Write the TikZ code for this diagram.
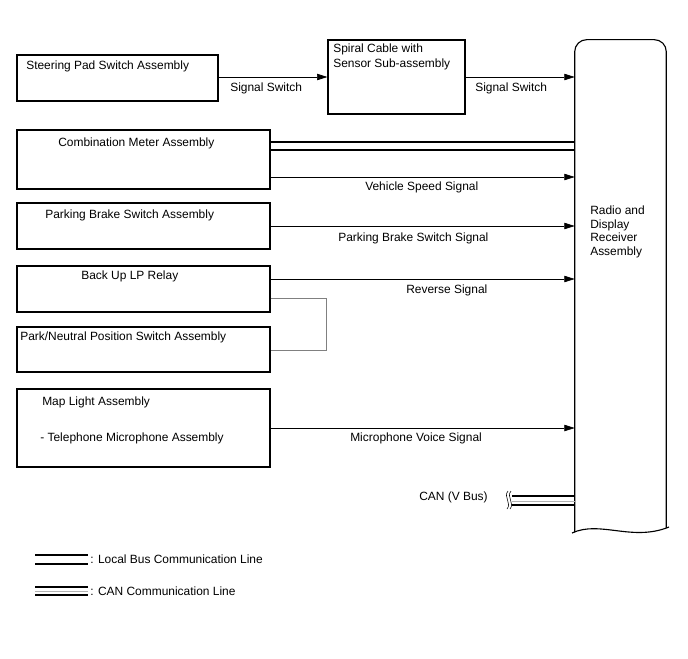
\documentclass[tikz,border=0pt]{standalone}
\usepackage{fontspec}
\setmainfont{Liberation Sans}
\usetikzlibrary{arrows.meta}
\begin{document}
\begin{tikzpicture}[x=0.025cm, y=-0.025cm,
  box/.style={draw, line width=0.8pt, minimum width=6.325cm, inner sep=0pt},
  note/.style={font=\fontsize{8.5}{10}\selectfont, anchor=west, inner sep=0pt},
  sig/.style={line width=0.5pt, -{Triangle[length=0.26cm, width=0.16cm]}},
  bus/.style={line width=1.4pt},
  gapline/.style={line width=0.4pt, gray!60}
]
\useasboundingbox (0,0) rectangle (688,658);
% left-hand units
\node[box, minimum width=5.025cm, minimum height=1.15cm] (steer) at (117.5,78) {};
\foreach \n/\y/\h in {meter/159.5/1.475,pbrake/226/1.15,backup/289/1.15,pnp/349.5/1.125,mapl/428/1.95}
  \node[box, minimum height=\h cm] (\n) at (143.5,\y) {};
\foreach \n/\x/\y/\t in {steertxt/26/66/{Steering Pad Switch Assembly},metertxt/58/143/{Combination Meter Assembly},pbraketxt/45/215/{Parking Brake Switch Assembly},backuptxt/81/276/{Back Up LP Relay},pnptxt/20/337/{Park/Neutral Position Switch Assembly},mapltxt/42/402/{Map Light Assembly},teltxt/40/438/{- Telephone Microphone Assembly}}
  \node[note] (\n) at (\x,\y) {\t};
\node[box, minimum width=3.425cm, minimum height=1.85cm] (spiral) at (396.5,77) {};
\node[note] (spiraltxt) at (333,49) {Spiral Cable with};
\node[note] (spiraltxt2) at (333,64) {Sensor Sub-assembly};
% receiver
\node[minimum width=2.275cm, minimum height=12.25cm, inner sep=0pt] (radio) at (620.5,285) {};
\draw[line width=0.8pt, rounded corners=0.3cm] (radio.west |- 0,532) -- (radio.north west) -- (radio.north east) -- (radio.east |- 0,528);
\draw[line width=0.8pt] (572,533) .. controls (600,520) and (632,542) .. (669,527);
\node[font=\fontsize{8.5}{9.8}\selectfont, align=left, anchor=west, inner sep=0pt] (radiotxt) at (590,232) {Radio and\\Display\\Receiver\\Assembly};
% signals
\draw[sig] (steer.east |- spiral.west) -- (spiral.west);
\draw[sig] (spiral.east) -- (radio.west |- spiral.east);
\draw[bus] (meter.east |- 0,142) -- (radio.west |- 0,142);
\draw[bus] (meter.east |- 0,150) -- (radio.west |- 0,150);
\draw[sig] (meter.east |- 0,177) -- (radio.west |- 0,177);
\draw[sig] (pbrake.east) -- (radio.west |- pbrake.east);
\draw[sig] (backup.east |- 0,279) -- (radio.west |- 0,279);
\draw[line width=0.5pt, gray] (backup.east |- 0,298) -| (326,350) -- (pnp.east |- 0,350);
\draw[sig] (mapl.east |- 0,428) -- (radio.west |- 0,428);
\node[note] (sw1) at (230,88) {Signal Switch};
\node[note] (sw2) at (475,88) {Signal Switch};
\node[note] (vss) at (365,187) {Vehicle Speed Signal};
\node[note] (pbs) at (338,238) {Parking Brake Switch Signal};
\node[note] (rev) at (406,290) {Reverse Signal};
\node[note] (mic) at (350,438) {Microphone Voice Signal};
% CAN
\coordinate (canend) at (512,500);
\draw[bus] (canend |- 0,496) -- (radio.west |- 0,496);
\draw[gapline] (canend |- 0,501) -- (radio.west |- 0,501);
\draw[bus] (canend |- 0,505) -- (radio.west |- 0,505);
\draw[line width=0.4pt] (508,491) .. controls (503,497) and (512,503) .. (507,509);
\draw[line width=0.4pt] (511,491) .. controls (506,497) and (515,503) .. (510,509);
\node[note] (can) at (419,497) {CAN (V Bus)};
% legend
\draw[bus] (35,555) -- (88,555);
\draw[bus] (35,564) -- (88,564);
\node[note] (leg1) at (90,559) {: Local Bus Communication Line};
\draw[bus] (35,587) -- (88,587);
\draw[gapline] (35,591) -- (88,591);
\draw[bus] (35,595) -- (88,595);
\node[note] (leg2) at (90,591) {: CAN Communication Line};
\end{tikzpicture}
\end{document}
